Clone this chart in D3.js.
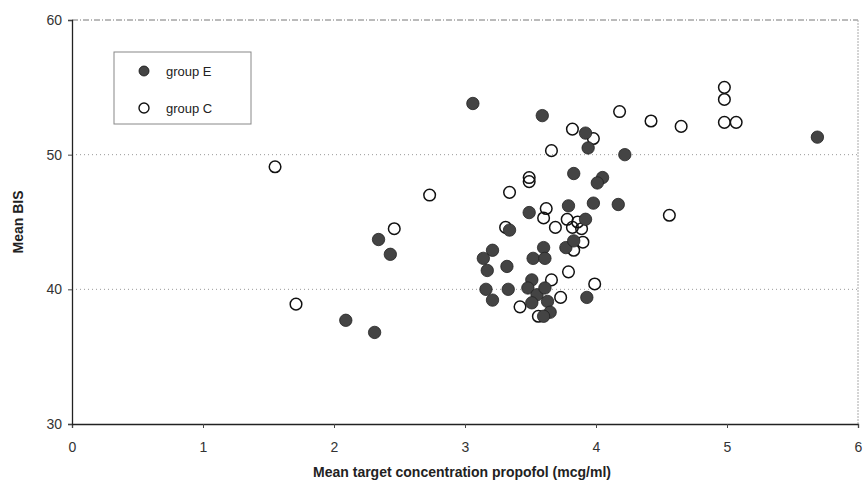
<!DOCTYPE html>
<html>
<head>
<meta charset="utf-8">
<script src="https://cdn.jsdelivr.net/npm/d3@7"></script>
<style>
  body { margin: 0; background: #fff; }
  text { font-family: "Liberation Sans", Arial, sans-serif; }
</style>
</head>
<body>
<div id="chart"></div>
<script>
// group E (filled) [concentration, BIS]
const groupE = [
  [3.06, 53.8], [3.59, 52.9], [3.92, 51.6], [3.94, 50.5], [4.22, 50.0], [5.69, 51.3],
  [3.83, 48.6], [4.05, 48.3], [4.01, 47.9], [3.79, 46.2], [3.98, 46.4], [4.17, 46.3],
  [3.49, 45.7], [3.92, 45.2], [3.34, 44.4], [3.21, 42.9], [3.14, 42.3], [3.17, 41.4],
  [3.32, 41.7], [3.60, 43.1], [3.52, 42.3], [3.61, 42.3], [3.77, 43.1], [3.83, 43.6],
  [3.16, 40.0], [3.21, 39.2], [3.33, 40.0], [3.51, 40.7], [3.48, 40.1], [3.55, 39.6],
  [3.61, 40.1], [3.63, 39.1], [3.51, 39.0], [3.65, 38.3], [3.60, 38.0], [3.93, 39.4],
  [2.34, 43.7], [2.43, 42.6], [2.09, 37.7], [2.31, 36.8]
];
// group C (open)
const groupC = [
  [4.98, 55.0], [4.98, 54.1], [4.18, 53.2], [4.42, 52.5], [4.98, 52.4], [5.07, 52.4],
  [4.65, 52.1], [3.82, 51.9], [3.98, 51.2], [3.66, 50.3], [1.55, 49.1], [2.73, 47.0],
  [3.49, 48.3], [3.49, 48.0], [3.34, 47.2], [3.62, 46.0], [3.60, 45.3], [3.31, 44.6],
  [3.69, 44.6], [3.78, 45.2], [3.82, 44.6], [3.86, 45.0], [3.89, 44.5], [3.90, 43.5],
  [3.83, 42.9], [3.79, 41.3], [3.66, 40.7], [3.99, 40.4], [3.73, 39.4], [3.42, 38.7],
  [3.56, 38.0], [2.46, 44.5], [1.71, 38.9], [4.56, 45.5]
];
const xTicks = [0, 1, 2, 3, 4, 5, 6];
const yTicks = [30, 40, 50, 60];
const legendItems = ['group E', 'group C'];

const W = 864, H = 492;
const svg = d3.select('#chart').append('svg')
  .attr('width', W).attr('height', H);

const x = d3.scaleLinear().domain([0, 6]).range([72, 858]);
const y = d3.scaleLinear().domain([30, 60]).range([424, 20]);

// gridlines (dotted)
svg.append('g')
  .selectAll('line')
  .data([40, 50])
  .join('line')
    .attr('x1', x(0)).attr('x2', x(6))
    .attr('y1', d => y(d)).attr('y2', d => y(d))
    .attr('stroke', '#999')
    .attr('stroke-width', 1)
    .attr('stroke-dasharray', '1,3');

// top and right frame
svg.append('line')
  .attr('x1', x(0)).attr('x2', x(6)).attr('y1', y(60)).attr('y2', y(60))
  .attr('stroke', '#777').attr('stroke-dasharray', '6,2,1,2');
svg.append('line')
  .attr('x1', x(6)).attr('x2', x(6)).attr('y1', y(60)).attr('y2', y(30))
  .attr('stroke', '#aaa').attr('stroke-dasharray', '2,1');

// axes
const xAxis = svg.append('g')
  .attr('transform', `translate(0,${y(30)})`)
  .call(d3.axisBottom(x).tickValues(xTicks).tickSize(4).tickPadding(14).tickFormat(d3.format('d')));
const yAxis = svg.append('g')
  .attr('transform', `translate(${x(0)},0)`)
  .call(d3.axisLeft(y).tickValues(yTicks).tickSize(4).tickPadding(6).tickFormat(d3.format('d')));

[xAxis, yAxis].forEach(a => {
  a.select('.domain').attr('stroke', '#222').attr('stroke-width', 1.3);
  a.selectAll('.tick line').attr('stroke', '#444');
  a.selectAll('.tick text')
    .attr('font-family', '"Liberation Sans", Arial, sans-serif')
    .attr('font-size', 14)
    .attr('fill', '#333');
});

// axis titles
svg.append('text')
  .attr('x', 462).attr('y', 477)
  .attr('text-anchor', 'middle')
  .attr('font-size', 14).attr('font-weight', 'bold').attr('fill', '#222')
  .text('Mean target concentration propofol (mcg/ml)');

svg.append('text')
  .attr('transform', `translate(23,${y(45)}) rotate(-90)`)
  .attr('text-anchor', 'middle')
  .attr('font-size', 14).attr('font-weight', 'bold').attr('fill', '#222')
  .text('Mean BIS');

// points
svg.append('g')
  .selectAll('circle')
  .data(groupC)
  .join('circle')
    .attr('cx', d => x(d[0])).attr('cy', d => y(d[1]))
    .attr('r', 5.8)
    .attr('fill', 'none')
    .attr('stroke', '#111').attr('stroke-width', 1.5);

svg.append('g')
  .selectAll('circle')
  .data(groupE)
  .join('circle')
    .attr('cx', d => x(d[0])).attr('cy', d => y(d[1]))
    .attr('r', 6.2)
    .attr('fill', '#444')
    .attr('stroke', '#222').attr('stroke-width', 0.8);

// legend
const lg = svg.append('g').attr('transform', 'translate(114,52)');
lg.append('rect')
  .attr('width', 137).attr('height', 72)
  .attr('fill', 'white')
  .attr('stroke', '#888').attr('stroke-width', 1);

const li = lg.selectAll('g.item')
  .data(legendItems)
  .join('g')
    .attr('class', 'item')
    .attr('transform', (d, i) => `translate(0,${19 + i * 37})`);

li.append('circle')
  .attr('cx', 30).attr('cy', 0).attr('r', 5)
  .attr('fill', (d, i) => i === 0 ? '#444' : 'white')
  .attr('stroke', '#111').attr('stroke-width', (d, i) => i === 0 ? 0.8 : 1.4);

li.append('text')
  .attr('x', 52).attr('y', 5)
  .attr('font-size', 13).attr('fill', '#222')
  .text(d => d);
</script>
</body>
</html>
